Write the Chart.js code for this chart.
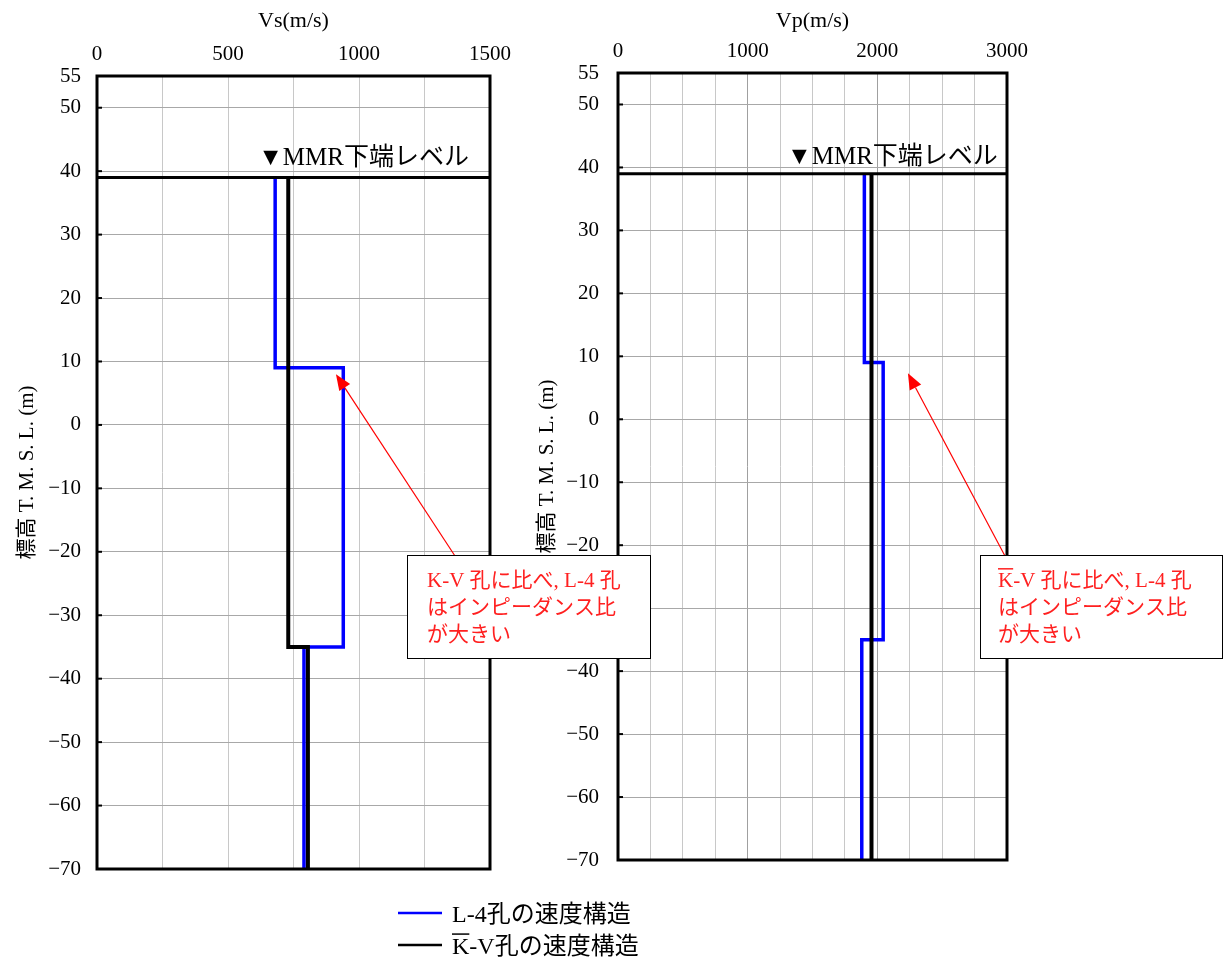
<!DOCTYPE html>
<html lang="ja">
<head>
<meta charset="UTF-8">
<title>L-4孔とK-V孔の速度構造</title>
<script src="https://cdn.jsdelivr.net/npm/chart.js"></script>
<style>
  body { margin: 0; background: #fff; }
  #wrap { position: relative; width: 1225px; height: 969px; }
  canvas { position: absolute; left: 0; top: 0; }
  #graficoVs { z-index: 2; }
  #graficoVp { z-index: 1; }
</style>
</head>
<body>
<div id="wrap">
  <canvas id="graficoVp" width="1225" height="969"></canvas>
  <canvas id="graficoVs" width="1225" height="969"></canvas>
</div>

<script>
// ---- dados ----
const yTicks = [55, 50, 40, 30, 20, 10, 0, -10, -20, -30, -40, -50, -60, -70];
const mmrLevel = 39;
const mmrLabel = '▼MMR下端レベル';
const yTitle = '標高 T. M. S. L. (m)';
const seriesLabels = ['L-4孔の速度構造', 'K-V孔の速度構造'];
const calloutLines = ['K-V 孔に比べ, L-4 孔', 'はインピーダンス比', 'が大きい'];

// limites das camadas (m) e velocidades (m/s)
const l4Bounds = [39, 9, -35, -70];
const vsL4 = [680, 940, 790];
const vpL4 = [1900, 2045, 1880];
const kvBoundsVs = [39, -35, -70];
const vsKV = [730, 805];
const kvBoundsVp = [39, -70];
const vpKV = [1955];

const serif = "'Liberation Serif', 'Noto Sans CJK JP', serif";
Chart.defaults.color = '#000';
Chart.defaults.font.family = serif;

function steps(bounds, values) {
  const pts = [];
  values.forEach((v, i) => {
    pts.push({ x: v, y: bounds[i] });
    pts.push({ x: v, y: bounds[i + 1] });
  });
  return pts;
}

function drawArrow(ctx, x0, y0, x1, y1) {
  const ang = Math.atan2(y1 - y0, x1 - x0);
  const len = 16, half = 6.5;
  const bx = x1 - len * Math.cos(ang), by = y1 - len * Math.sin(ang);
  ctx.strokeStyle = '#ff0000';
  ctx.fillStyle = '#ff0000';
  ctx.lineWidth = 1.2;
  ctx.beginPath(); ctx.moveTo(x0, y0); ctx.lineTo(bx, by); ctx.stroke();
  ctx.beginPath();
  ctx.moveTo(x1, y1);
  ctx.lineTo(bx + half * Math.sin(ang), by - half * Math.cos(ang));
  ctx.lineTo(bx - half * Math.sin(ang), by + half * Math.cos(ang));
  ctx.closePath();
  ctx.fill();
}

function overlineK(ctx, x, yMid, size, color) {
  const w = ctx.measureText('K').width;
  ctx.strokeStyle = color;
  ctx.lineWidth = 1.5;
  ctx.beginPath();
  ctx.moveTo(x, yMid - size * 0.58);
  ctx.lineTo(x + w, yMid - size * 0.58);
  ctx.stroke();
}

// desenho extra: moldura, nível MMR, seta e caixa de texto
function decor(opt) {
  return {
    id: 'decor',
    afterDraw(chart) {
      const { ctx, chartArea: a, scales: { x, y } } = chart;
      ctx.save();

      ctx.strokeStyle = '#000';
      ctx.lineWidth = 2;
      yTicks.forEach(v => {
        const py = y.getPixelForValue(v);
        ctx.beginPath(); ctx.moveTo(a.left, py); ctx.lineTo(a.left + 5, py); ctx.stroke();
      });

      const my = y.getPixelForValue(mmrLevel);
      ctx.lineWidth = 3;
      ctx.beginPath(); ctx.moveTo(a.left, my); ctx.lineTo(a.right, my); ctx.stroke();
      ctx.strokeRect(a.left, a.top, a.right - a.left, a.bottom - a.top);

      ctx.fillStyle = '#000';
      ctx.font = '25px ' + serif;
      ctx.textBaseline = 'alphabetic';
      ctx.textAlign = 'left';
      ctx.fillText(mmrLabel, x.getPixelForValue(opt.mmrX), y.getPixelForValue(opt.mmrY));

      const b = opt.box;
      drawArrow(ctx, b.x + opt.arrowFrom, b.y + 1, x.getPixelForValue(opt.tip[0]), y.getPixelForValue(opt.tip[1]));

      ctx.fillStyle = '#fff';
      ctx.fillRect(b.x, b.y, b.w, b.h);
      ctx.strokeStyle = '#000';
      ctx.lineWidth = 1;
      ctx.strokeRect(b.x + 0.5, b.y + 0.5, b.w, b.h);
      ctx.fillStyle = '#ff2020';
      ctx.font = '21px ' + serif;
      ctx.textBaseline = 'middle';
      calloutLines.forEach((t, i) => {
        const ty = b.y + 26 + i * 27;
        ctx.fillText(t, b.x + b.tx, ty);
        if (i === 0 && opt.overline) overlineK(ctx, b.x + b.tx, ty, 21, '#ff2020');
      });

      if (opt.legend) {
        ctx.font = '24px ' + serif;
        chart.data.datasets.forEach((ds, i) => {
          const ly = 913 + i * 32;
          ctx.strokeStyle = ds.borderColor;
          ctx.lineWidth = 2.5;
          ctx.beginPath(); ctx.moveTo(398, ly); ctx.lineTo(442, ly); ctx.stroke();
          ctx.fillStyle = '#000';
          ctx.fillText(ds.label, 452, ly + 3);
          if (i === 1) overlineK(ctx, 452, ly + 3, 24, '#000');
        });
      }
      ctx.restore();
    }
  };
}

const fmt = v => String(v).replace('-', '−');

function xAxis(title, max, every, height, majorColor) {
  return {
    type: 'linear', position: 'top', min: 0, max: max,
    ticks: {
      stepSize: 250, autoSkip: false, maxRotation: 0, padding: 9,
      font: { size: 21 },
      callback: v => (v % every === 0 ? fmt(v) : '')
    },
    grid: {
      drawTicks: false,
      color: c => (c.tick && c.tick.value % 1000 === 0 ? majorColor : '#c8c8c8')
    },
    border: { display: false },
    title: { display: true, text: title, font: { size: 22 }, padding: { top: 8, bottom: 0 } },
    afterFit: s => { s.height = height; }
  };
}

function yAxis(width, pad, titlePad) {
  return {
    type: 'linear', min: -70, max: 55,
    afterBuildTicks: s => { s.ticks = yTicks.map(v => ({ value: v })); },
    ticks: { autoSkip: false, padding: pad, font: { size: 21 }, callback: v => fmt(v) },
    grid: { drawTicks: false, color: '#a8a8a8' },
    border: { display: false },
    title: { display: true, text: yTitle, font: { size: 21 }, padding: { top: titlePad, bottom: 0 } },
    afterFit: s => { s.width = width; }
  };
}

function lineSet(label, pts, color, width, order) {
  return {
    label: label, data: pts, borderColor: color, backgroundColor: color,
    borderWidth: width, showLine: true, pointRadius: 0, tension: 0,
    borderJoinStyle: 'miter', order: order
  };
}

new Chart(document.getElementById('graficoVs'), {
  type: 'scatter',
  data: {
    datasets: [
      lineSet(seriesLabels[0], steps(l4Bounds, vsL4), '#0000ff', 3.5, 1),
      lineSet(seriesLabels[1], steps(kvBoundsVs, vsKV), '#000000', 4, 0)
    ]
  },
  options: {
    responsive: false, animation: false,
    layout: { padding: { left: 0, top: 0, right: 735, bottom: 100 } },
    plugins: { legend: { display: false }, tooltip: { enabled: false } },
    scales: { x: xAxis('Vs(m/s)', 1500, 500, 76, '#c8c8c8'), y: yAxis(97, 16, 15) }
  },
  plugins: [decor({
    mmrX: 615, mmrY: 41,
    tip: [912, 8],
    box: { x: 407, y: 555, w: 243, h: 103, tx: 20 },
    arrowFrom: 48, overline: false, legend: true
  })]
});

new Chart(document.getElementById('graficoVp'), {
  type: 'scatter',
  data: {
    datasets: [
      lineSet(seriesLabels[0], steps(l4Bounds, vpL4), '#0000ff', 3.5, 1),
      lineSet(seriesLabels[1], steps(kvBoundsVp, vpKV), '#000000', 4, 0)
    ]
  },
  options: {
    responsive: false, animation: false,
    layout: { padding: { left: 530, top: 0, right: 218, bottom: 109 } },
    plugins: { legend: { display: false }, tooltip: { enabled: false } },
    scales: { x: xAxis('Vp(m/s)', 3000, 1000, 73, '#a0a0a0'), y: yAxis(88, 19, 5) }
  },
  plugins: [decor({
    mmrX: 1303, mmrY: 40.5,
    tip: [2236, 7.3],
    box: { x: 980, y: 555, w: 242, h: 103, tx: 18 },
    arrowFrom: 25, overline: true, legend: false
  })]
});
</script>
</body>
</html>
